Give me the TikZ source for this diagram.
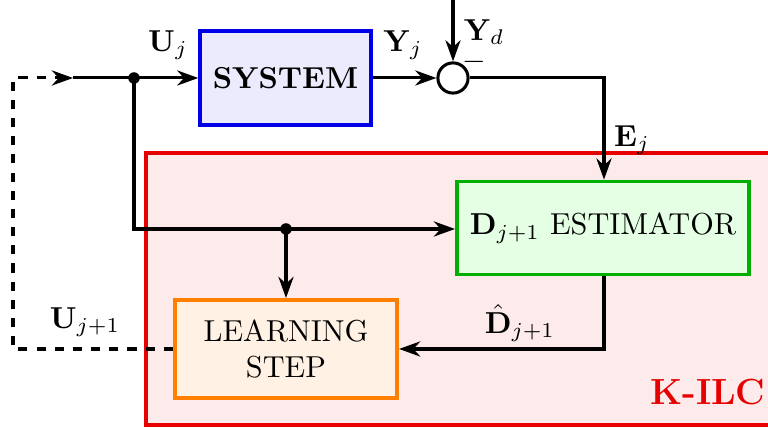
\documentclass[tikz,border=0pt]{standalone}
\usepackage{amsmath,amssymb,xcolor}
\usepackage{tikz}
\usetikzlibrary{positioning,arrows.meta,calc}
\definecolor{sysblue}{RGB}{0,0,230}
\definecolor{estgreen}{RGB}{0,175,0}
\definecolor{learnorange}{RGB}{255,128,0}
\definecolor{ilcred}{RGB}{230,0,0}
\colorlet{sysfill}{sysblue!8}
\colorlet{estfill}{green!10}
\colorlet{learnfill}{learnorange!10}
\colorlet{ilcfill}{ilcred!8}

\begin{document}
\begin{tikzpicture}[x=.0116cm,y=.0116cm,line width=1pt,>={Stealth[length=7pt,width=5pt]},
    block/.style={draw,line width=1.2pt,inner sep=0pt,align=center},
    lbl/.style={inner sep=1pt}]
      \useasboundingbox (0,0) rectangle (768,428);
      \clip (0,0) rectangle (768,428);
      % learning controller area
      \fill[ilcfill] (146,3) rectangle (780,275);
      \draw[ilcred,line width=1.2pt] (780,3) -- (146,3) -- (146,275) -- (780,275);
      \node[text=ilcred,font=\large\bfseries] (ilc) at (708,36) {K-ILC};
      % blocks
      \node[block,draw=sysblue,fill=sysfill,minimum width=1.98cm,minimum height=1.09cm,font=\bfseries] (sys) at (285.5,350) {SYSTEM};
      \node[draw,circle,minimum size=.35cm,inner sep=0pt] (sum) at (453,350) {};
      \node[block,draw=estgreen,fill=estfill,minimum width=3.39cm,minimum height=1.08cm] (est) at (603,200) {$\mathbf{D}_{j+1}$ ESTIMATOR};
      \node[block,draw=learnorange,fill=learnfill,minimum width=2.58cm,minimum height=1.14cm] (learn) at (286,79) {LEARNING\\STEP};
      % branch points
      \coordinate (in) at (73,350);
      \coordinate (yd) at (453,428);
      \coordinate (ecorner) at (604,350);
      \fill (134,350) circle (1.9pt) coordinate (split1);
      \fill (286,199) circle (1.9pt) coordinate (split2);
      % connectors
      \draw[->] (in) -- (sys.west);
      \draw[->] (sys.east) -- (sum.west);
      \draw[->] (yd) -- (sum.north);
      \draw[->] (sum.east) -- (ecorner) -- (est.north -| ecorner);
      \draw[->] (split1) |- (est.west |- split2);
      \draw[->] (split2) -- (learn.north);
      \draw[->] (est.south -| ecorner) |- (learn.east);
      \draw[dashed,->] (learn.west) -| (13,350) -- (in);
      % labels
      \node[lbl] (uj) at (168,383) {$\mathbf{U}_j$};
      \node[lbl] (yj) at (403,383) {$\mathbf{Y}_j$};
      \node[lbl] (ydl) at (484,396) {$\mathbf{Y}_d$};
      \node[lbl] (minus) at (474,366) {$-$};
      \node[lbl] (ej) at (632,288) {$\mathbf{E}_j$};
      \node[lbl] (dhat) at (520,105) {$\hat{\mathbf{D}}_{j+1}$};
      \node[lbl] (unext) at (85,106) {$\mathbf{U}_{j+1}$};
    \end{tikzpicture}
\end{document}
